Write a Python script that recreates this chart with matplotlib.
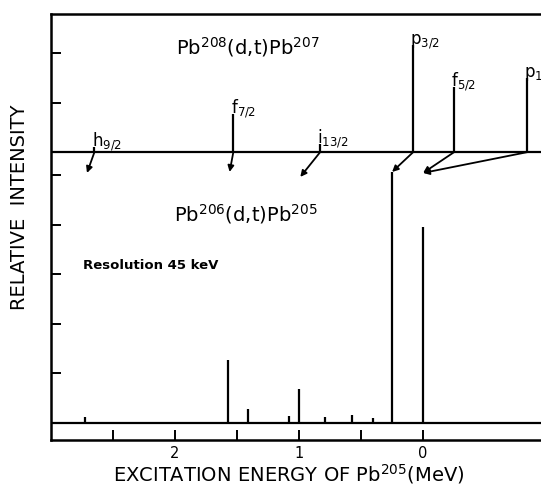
import matplotlib
matplotlib.use('Agg')
import matplotlib.pyplot as plt

# Pb206(d,t)Pb205 levels (lower spectrum), energy in MeV, relative intensity
lower_energy = [2.73, 1.57, 1.41, 1.08, 1.00, 0.79, 0.575, 0.40, 0.25, 0.0]
lower_intensity = [0.12, 1.27, 0.28, 0.14, 0.69, 0.12, 0.16, 0.10, 5.07, 3.96]

# Pb208(d,t)Pb207 levels (upper spectrum), shifted onto the Pb205 scale
upper_energy = [2.65, 1.53, 0.83, 0.08, -0.25, -0.84]
upper_intensity = [0.10, 0.77, 0.16, 2.16, 1.31, 1.49]
upper_labels = ['h$_{9/2}$', 'f$_{7/2}$', 'i$_{13/2}$', 'p$_{3/2}$', 'f$_{5/2}$', 'p$_{1/2}$']
upper_target = [2.71, 1.56, 0.99, 0.25, 0.0, 0.0]
upper_tip = [5.05, 5.07, 4.97, 5.07, 5.05, 5.05]

upper_base = 5.47
xticks = [0, 0.5, 1, 1.5, 2, 2.5]
xticklabels = ['0', '', '1', '', '2', '']
yticks = [1, 2, 3, 4, 5, upper_base + 1, upper_base + 2]

plt.rcParams['font.family'] = 'DejaVu Sans'

fig = plt.figure(figsize=(5.41, 4.91), dpi=100)
ax = fig.add_axes([0.0943, 0.1039, 1.0113 - 0.0943, 0.9715 - 0.1039])

lw = 1.6
ax.vlines(lower_energy, 0, lower_intensity, color='black', lw=lw)
ax.axhline(0, color='black', lw=lw)
ax.axhline(upper_base, color='black', lw=lw)
ax.vlines(upper_energy, upper_base, [upper_base + v for v in upper_intensity],
          color='black', lw=lw)

for e, i, lab, tgt, tip in zip(upper_energy, upper_intensity, upper_labels,
                                upper_target, upper_tip):
    ax.annotate('', xy=(tgt, tip), xytext=(e, upper_base),
                arrowprops=dict(arrowstyle='-|>', color='black', lw=1.3,
                                mutation_scale=9, shrinkA=0, shrinkB=0))
    ax.annotate(lab, xy=(e, upper_base + i), xytext=(-2, -4),
                textcoords='offset points', ha='left', va='bottom', fontsize=12)

ax.text(1.41, 7.6, 'Pb$^{208}$(d,t)Pb$^{207}$', ha='center', va='center', fontsize=14)
ax.text(1.43, 4.22, 'Pb$^{206}$(d,t)Pb$^{205}$', ha='center', va='center', fontsize=14)
ax.text(2.74, 3.19, 'Resolution 45 keV', ha='left', va='center', fontsize=9.5,
        fontweight='bold')

ax.set_xlim(3.0, -1.0)
ax.set_ylim(-0.343, 8.26)
ax.set_xticks(xticks)
ax.set_xticklabels(xticklabels, fontsize=10.5)
ax.set_yticks(yticks)
ax.set_yticklabels([])
ax.tick_params(axis='both', direction='in', length=7, width=1.4)
ax.tick_params(axis='x', pad=4)
for s in ax.spines.values():
    s.set_linewidth(1.8)

ax.set_xlabel('EXCITATION ENERGY OF Pb$^{205}$(MeV)', fontsize=14)
ax.xaxis.set_label_coords(0.48, -0.053)
ax.set_ylabel('RELATIVE  INTENSITY', fontsize=14)
ax.yaxis.set_label_coords(-0.044, 0.547)

fig.savefig('out.png', dpi=100)
